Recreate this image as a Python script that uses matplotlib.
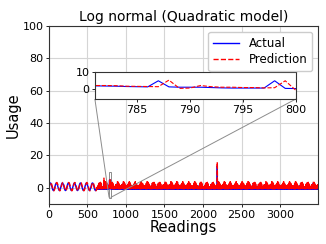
import numpy as np
import matplotlib
matplotlib.use("Agg")
import matplotlib.pyplot as plt
from mpl_toolkits.axes_grid1.inset_locator import mark_inset

# ---------------- data ----------------
n_readings = 3490
early_end = 620
early_step = 6
# one period of the smooth early oscillation (one value per 6 readings)
early_wave_actual = [0.8, 1.8, 2.6, 3.0, 2.9, 2.2, 1.2, 0.1, -0.9, -1.5, -1.7, -1.3, -0.4]
early_wave_pred = [-0.3, 0.9, 2.0, 2.9, 3.3, 3.0, 2.2, 1.1, -0.1, -1.0, -1.7, -1.8, -1.2]

# late part: 11-reading spike pattern, spike height varying over a 7-block cycle
spike_shape_actual = [0.0, 0.0, 0.0, 0.0, 0.0, 1.0, 0.0, 0.0, 0.0, 0.0, 0.0]
spike_shape_pred = [0.0, 0.0, 0.0, 0.0, 0.0, 0.0, 1.0, 0.0, 0.0, 0.3, 0.0]
base_actual = [-0.4, -0.5, -0.5, -0.6, -0.6, -0.5, -0.6, -0.7, -0.7, -0.7, -0.6]
base_pred = [0.1, 0.0, -0.1, 0.0, 0.1, 0.0, 0.0, -0.6, -0.3, 0.0, 0.1]
spike_height_actual = [0.8, 1.6, 2.4, 3.3, 3.0, 2.0, 1.2]
spike_height_pred = [1.0, 1.9, 2.8, 3.8, 3.4, 2.4, 1.4]

# isolated spikes
spike_readings = [714, 2185]
spike_actual_vals = [4.5, 13.5]
spike_pred_vals = [6.0, 16.0]

# zoomed window (inset)
window_readings = list(range(781, 801))
window_actual = [1.8, 1.7, 1.6, 1.4, 1.3, 1.2, 4.8, 1.2, 1.0, 1.0,
                 1.0, 0.8, 0.6, 0.5, 0.5, 0.5, 0.5, 4.8, 0.3, 0.2]
window_pred = [2.0, 2.0, 1.9, 1.6, 1.5, 1.4, 1.3, 5.2, 0.3, 0.5,
               2.0, 1.3, 1.0, 1.0, 0.8, 0.8, 0.6, 0.7, 4.8, -0.8]

inset_xlim = (781, 800)
inset_ylim = (-6, 10)
main_xlim = (0, 3490)
main_ylim = (-10, 100)
title = "Log normal (Quadratic model)"

# ---------------- assemble series ----------------
x_early = np.arange(0, early_end, early_step)
k = len(x_early)
reps = int(np.ceil(k / len(early_wave_actual)))
y_early_a = np.tile(early_wave_actual, reps)[:k]
y_early_p = np.tile(early_wave_pred, reps)[:k]

x_late = np.arange(early_end, n_readings)
nb = len(spike_height_actual)
block_a = np.tile(base_actual, nb) + np.outer(spike_height_actual, spike_shape_actual).ravel()
block_p = np.tile(base_pred, nb) + np.outer(spike_height_pred, spike_shape_pred).ravel()
m = len(x_late)
y_late_a = np.tile(block_a, int(np.ceil(m / len(block_a))))[:m]
y_late_p = np.tile(block_p, int(np.ceil(m / len(block_p))))[:m]

for r, va, vp in zip(spike_readings, spike_actual_vals, spike_pred_vals):
    y_late_a[r - early_end] = va
    y_late_p[r - early_end] = vp
    y_late_p[r + 1 - early_end] = vp * 0.8
for r, va, vp in zip(window_readings, window_actual, window_pred):
    y_late_a[r - early_end] = va
    y_late_p[r - early_end] = vp

x = np.concatenate([x_early, x_late])
actual = np.concatenate([y_early_a, y_late_a])
pred = np.concatenate([y_early_p, y_late_p])

# ---------------- plot ----------------
fig = plt.figure(figsize=(3.26, 2.44), dpi=100)
ax = fig.add_axes([0.150, 0.164, 0.825, 0.729])
ax.plot(x, actual, color="blue", lw=1.0, label="Actual")
ax.plot(x, pred, color="red", lw=1.0, ls="--", label="Prediction")
ax.set_xlim(*main_xlim)
ax.set_ylim(*main_ylim)
ax.set_xticks([0, 500, 1000, 1500, 2000, 2500, 3000])
ax.set_yticks([0, 20, 40, 60, 80, 100])
ax.grid(True, color="#d5d5d5", lw=0.8)
ax.set_axisbelow(True)
ax.tick_params(labelsize=8, length=2.5, width=0.6, pad=1.5)
ax.set_xlabel("Readings", fontsize=10.5, labelpad=0)
ax.set_ylabel("Usage", fontsize=10.5, labelpad=1)
ax.set_title(title, fontsize=10, pad=4)
for s in ax.spines.values():
    s.set_color("#333333")
    s.set_linewidth(0.8)
ax.legend(loc="upper right", fontsize=8.5, framealpha=1.0, borderpad=0.4,
          handlelength=2.2, labelspacing=0.3)

axins = ax.inset_axes([0.171, 0.590, 0.747, 0.152])
axins.plot(x, actual, color="blue", lw=0.8)
axins.plot(x, pred, color="red", lw=0.8, ls="--")
axins.set_xlim(*inset_xlim)
axins.set_ylim(*inset_ylim)
axins.set_xticks([785, 790, 795, 800])
axins.set_yticks([0, 10])
axins.tick_params(labelsize=8, length=2.5, width=0.6, pad=1.5)
for s in axins.spines.values():
    s.set_color("#333333")
    s.set_linewidth(0.8)
mark_inset(ax, axins, loc1=3, loc2=4, fc="none", ec="0.55", lw=0.7)

fig.savefig("out.png", dpi=100)
